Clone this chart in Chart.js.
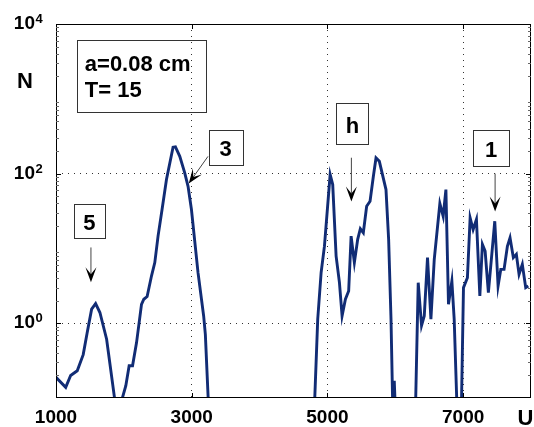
<!DOCTYPE html>
<html><head><meta charset="utf-8">
<script src="https://cdn.jsdelivr.net/npm/chart.js@4.4.1/dist/chart.umd.min.js"></script>
<style>html,body{margin:0;padding:0;background:#fff;}canvas{display:block;}</style>
</head><body>
<canvas id="c" width="534" height="427"></canvas>
<script>
// ---- data (U, N) ----
const uValues = [
  1000,1143,1216,1313,1401,1460,1525,1584,1647,1746,1900,2029,2078,2128,2187,2260,2294,2343,2407,2456,2504,2563,2628,2725,2760,2824,2897,2946,2996,3093,3176,3201,3257,
  4801,4857,4907,4956,5040,5078,5128,5177,5216,5265,5313,5349,5397,5446,5485,5529,5578,5628,5677,5716,5765,5863,5902,5937,5963,5985,6007,
  6294,6338,6387,6427,6475,6525,6574,6657,6706,6746,6784,6834,6868,6912,6971,7005,7063,7103,7147,7196,7246,7284,7324,7372,7466,7515,7555,7603,7652,7691,7740,7784,7824,7872,7922,7960
];
const nValues = [
  0.189,0.139,0.2,0.231,0.38,0.75,1.54,1.83,1.39,0.61,0.056,0.146,0.27,0.27,0.55,1.79,2.09,2.27,4.27,6.46,14.6,33.1,83.2,225,228,170,102,67.6,33.1,4.74,1.25,0.71,0.05,
  0.05,1.13,4.74,10.7,97,71.3,7.89,3.48,1.25,2.09,2.69,14.6,6.46,13.2,18.3,16.2,36.6,42.7,92,162,146,61.2,13.2,1.13,0.071,0.17,0.05,
  0.05,3.48,0.93,1.25,7.52,1.13,7.08,39.8,26.9,61.2,1.79,3.66,1.13,0.063,0.05,2.99,4.06,25.6,17.9,24.4,2.31,11.3,9.2,2.56,23.1,3.15,5.25,5.25,10.7,13.9,7.52,8.32,4.5,6.12,2.99,3.15
];
const xTicks = [1000, 3000, 5000, 7000];
const yTicks = [1, 100, 10000];
const yTickBase = '10';
const yTickExponents = ['0', '2', '4'];
const xTitle = 'U';
const yTitle = 'N';
const infoLines = ['a=0.08 cm', 'T= 15'];
const infoAnchor = [2257, 2027];           // data coords of info box centre
const markerLabels = ['5', '3', 'h', '1'];
const markerBoxAnchors = [[1493, 23.6], [3500, 225], [5368, 471], [7412, 222]];
const markerTails = [[1515, 10.3], [3240, 170], [5353, 163], [7471, 100]];
const markerTips = [[1515, 3.52], [2956, 73.6], [5353, 42.4], [7471, 31.1]];

const FAM = "'Liberation Sans', Arial, Helvetica, sans-serif";

function arrow(ctx, x1, y1, x2, y2) {
  const ang = Math.atan2(y2 - y1, x2 - x1);
  const dx = Math.cos(ang), dy = Math.sin(ang);
  const L = 15, W = 5.5, notch = 8;
  ctx.strokeStyle = '#444'; ctx.lineWidth = 1;
  ctx.beginPath(); ctx.moveTo(x1, y1); ctx.lineTo(x2 - dx * notch, y2 - dy * notch); ctx.stroke();
  ctx.fillStyle = '#000';
  ctx.beginPath();
  ctx.moveTo(x2, y2);
  ctx.lineTo(x2 - dx * L - dy * W, y2 - dy * L + dx * W);
  ctx.lineTo(x2 - dx * notch, y2 - dy * notch);
  ctx.lineTo(x2 - dx * L + dy * W, y2 - dy * L - dx * W);
  ctx.closePath(); ctx.fill();
}

const decor = {
  id: 'decor',
  afterDraw(chart) {
    const { ctx, chartArea: a, scales: { x, y } } = chart;
    ctx.save();
    // frame
    ctx.strokeStyle = '#000'; ctx.lineWidth = 1;
    ctx.strokeRect(a.left + 0.5, a.top + 0.5, a.right - a.left - 1, a.bottom - a.top - 1);
    // inward tick marks
    ctx.beginPath();
    xTicks.forEach(v => {
      const px = Math.round(x.getPixelForValue(v)) + 0.5;
      ctx.moveTo(px, a.bottom); ctx.lineTo(px, a.bottom - 5);
      ctx.moveTo(px, a.top); ctx.lineTo(px, a.top + 5);
    });
    yTicks.forEach(v => {
      const py = Math.round(y.getPixelForValue(v)) + 0.5;
      ctx.moveTo(a.left, py); ctx.lineTo(a.left + 5, py);
      ctx.moveTo(a.right, py); ctx.lineTo(a.right - 5, py);
    });
    ctx.stroke();
    ctx.strokeStyle = '#666';
    ctx.beginPath();
    for (let d = -1; d < 4; d++) {
      for (let m = 2; m <= 9; m++) {
        const py = Math.round(y.getPixelForValue(m * Math.pow(10, d))) + 0.5;
        ctx.moveTo(a.left, py); ctx.lineTo(a.left + 3, py);
        ctx.moveTo(a.right, py); ctx.lineTo(a.right - 3, py);
      }
    }
    ctx.stroke();
    // exponents of y tick labels
    ctx.fillStyle = '#000';
    ctx.font = 'bold 13px ' + FAM;
    ctx.textAlign = 'left'; ctx.textBaseline = 'alphabetic';
    const labelRight = a.left - y.options.ticks.padding;
    yTicks.forEach((v, i) => {
      const py = y.getPixelForValue(v);
      ctx.fillText(yTickExponents[i], labelRight + 0.5, py - 1);
    });
    // axis titles
    ctx.font = 'bold 22px ' + FAM;
    ctx.textAlign = 'center';
    ctx.fillText(yTitle, a.left - 31, a.top + 64);
    ctx.fillText(xTitle, a.right - 5.5, a.bottom + 27);
    // info box
    const icx = x.getPixelForValue(infoAnchor[0]), icy = y.getPixelForValue(infoAnchor[1]);
    const iw = 129, ih = 72;
    ctx.strokeStyle = '#333'; ctx.lineWidth = 1;
    ctx.strokeRect(Math.round(icx - iw / 2) + 0.5, Math.round(icy - ih / 2) + 0.5, iw, ih);
    ctx.textAlign = 'left';
    ctx.font = 'bold 22px ' + FAM;
    infoLines.forEach((t, i) => ctx.fillText(t, icx - iw / 2 + 8, icy - ih / 2 + 31 + i * 26));
    // marker boxes and arrows
    const sizes = [[31, 34], [34, 35], [32, 41], [36, 36]];
    markerLabels.forEach((lab, i) => {
      const bx = x.getPixelForValue(markerBoxAnchors[i][0]), by = y.getPixelForValue(markerBoxAnchors[i][1]);
      const [w, h] = sizes[i];
      ctx.strokeStyle = '#333'; ctx.lineWidth = 1;
      ctx.strokeRect(Math.round(bx - w / 2) + 0.5, Math.round(by - h / 2) + 0.5, w, h);
      ctx.font = 'bold 22px ' + FAM; ctx.textAlign = 'center'; ctx.fillStyle = '#000';
      const m = ctx.measureText(lab);
      ctx.fillText(lab, bx, by + (m.actualBoundingBoxAscent - m.actualBoundingBoxDescent) / 2 + 1.5);
      arrow(ctx,
        x.getPixelForValue(markerTails[i][0]), y.getPixelForValue(markerTails[i][1]),
        x.getPixelForValue(markerTips[i][0]), y.getPixelForValue(markerTips[i][1]));
    });
    ctx.restore();
  }
};

new Chart(document.getElementById('c'), {
  type: 'line',
  data: {
    datasets: [{
      data: uValues.map((u, i) => ({ x: u, y: nValues[i] })),
      borderColor: '#112c75', borderWidth: 2.9, pointRadius: 0, tension: 0, fill: false
    }]
  },
  options: {
    responsive: false, animation: false, devicePixelRatio: 1,
    layout: { padding: { top: 24, right: 3, left: 0, bottom: 0 } },
    plugins: { legend: { display: false }, tooltip: { enabled: false } },
    scales: {
      x: {
        type: 'linear', min: 1000, max: 8000,
        afterBuildTicks: s => { s.ticks = xTicks.map(v => ({ value: v })); },
        afterFit: s => { s.height = 29; s.paddingLeft = 0; s.paddingRight = 0; },
        grid: { color: '#333', lineWidth: 1, drawTicks: false },
        border: { display: false, dash: [1, 5] },
        ticks: { color: '#000', font: { family: FAM, size: 19, weight: 'bold' }, padding: 8, maxRotation: 0, autoSkip: false, callback: v => String(v) }
      },
      y: {
        type: 'logarithmic', min: 0.1, max: 10000,
        afterBuildTicks: s => { s.ticks = yTicks.map(v => ({ value: v })); },
        afterFit: s => { s.width = 56; s.paddingTop = 0; s.paddingBottom = 0; },
        grid: { color: '#333', lineWidth: 1, drawTicks: false },
        border: { display: false, dash: [1, 5] },
        ticks: { color: '#000', font: { family: FAM, size: 19, weight: 'bold' }, padding: 21, autoSkip: false, callback: () => yTickBase }
      }
    }
  },
  plugins: [decor]
});
</script>
</body></html>
